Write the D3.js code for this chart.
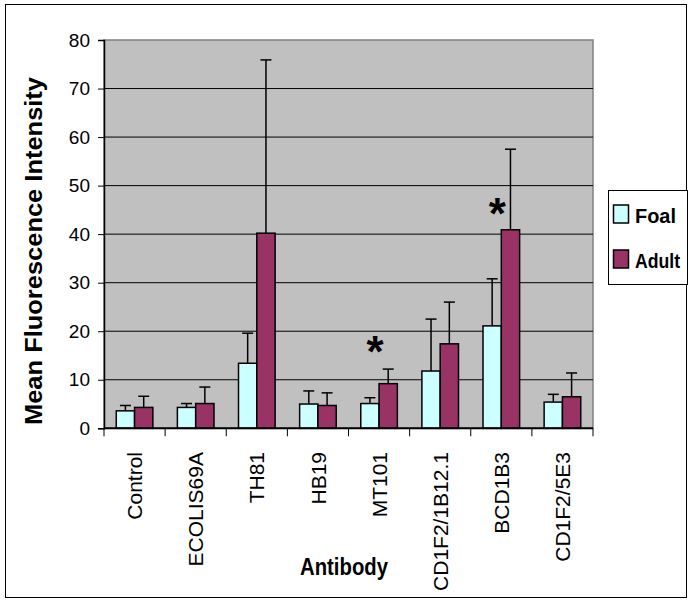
<!DOCTYPE html>
<html>
<head>
<meta charset="utf-8">
<script src="https://cdn.jsdelivr.net/npm/d3@7"></script>
<style>
  body { margin: 0; background: #fff; }
  svg { display: block; font-family: 'Liberation Sans', Arial, sans-serif; }
</style>
</head>
<body>
<svg id="chart" width="692" height="603"></svg>
<script>
const categories = ['Control', 'ECOLIS69A', 'TH81', 'HB19', 'MT101', 'CD1F2/1B12.1', 'BCD1B3', 'CD1F2/5E3']
const series = ['Foal', 'Adult']
const foal = [3.6, 4.3, 13.4, 5.0, 5.1, 11.8, 21.1, 5.4]
const foalErr = [1.1, 0.8, 6.2, 2.7, 1.2, 10.7, 9.7, 1.6]
const adult = [4.3, 5.1, 40.2, 4.7, 9.2, 17.4, 40.9, 6.5]
const adultErr = [2.3, 3.4, 35.7, 2.6, 3.0, 8.6, 16.6, 4.9]
const yTicks = [0, 10, 20, 30, 40, 50, 60, 70, 80]
// significance markers: category + height (value units)
const stars = [{ cat: 'MT101', v: 17.8 }, { cat: 'BCD1B3', v: 46.4 }]

const colors = { Foal: '#ccffff', Adult: '#993366' }

const svg = d3.select('#chart')
const plot = { left: 104, right: 593, top: 40, bottom: 428.3 }

// outer frame
svg.append('rect')
  .attr('x', 5.5).attr('y', 4.5)
  .attr('width', 681).attr('height', 593)
  .attr('fill', '#fff').attr('stroke', '#000').attr('stroke-width', 1)

const x = d3.scaleBand().domain(categories).range([plot.left, plot.right])
const xs = d3.scaleBand().domain(series).range([0, x.bandwidth()]).paddingOuter(0.67)
const y = d3.scaleLinear().domain([0, 80]).range([plot.bottom, plot.top])

// plot background
svg.append('rect')
  .attr('x', plot.left).attr('y', plot.top)
  .attr('width', plot.right - plot.left).attr('height', plot.bottom - plot.top)
  .attr('fill', '#c0c0c0').attr('stroke', '#808080').attr('stroke-width', 1.5)

// gridlines
svg.append('g').selectAll('line')
  .data(yTicks.filter(t => t > 0 && t < 80))
  .enter().append('line')
  .attr('x1', plot.left).attr('x2', plot.right)
  .attr('y1', d => y(d)).attr('y2', d => y(d))
  .attr('stroke', '#000').attr('stroke-width', 1)

const rows = categories.map((c, i) => ({
  cat: c,
  vals: [
    { s: 'Foal', v: foal[i], e: foalErr[i] },
    { s: 'Adult', v: adult[i], e: adultErr[i] }
  ]
}))

const groups = svg.append('g').selectAll('g')
  .data(rows)
  .enter().append('g')
  .attr('transform', d => `translate(${x(d.cat)},0)`)

// error bars (upper only)
groups.selectAll('g.err')
  .data(d => d.vals)
  .enter().append('g')
  .attr('class', 'err')
  .each(function (d) {
    const g = d3.select(this)
    const cx = xs(d.s) + xs.bandwidth() / 2
    g.append('line')
      .attr('x1', cx).attr('x2', cx)
      .attr('y1', y(d.v)).attr('y2', y(d.v + d.e))
      .attr('stroke', '#000').attr('stroke-width', 1.5)
    g.append('line')
      .attr('x1', cx - 5.5).attr('x2', cx + 5.5)
      .attr('y1', y(d.v + d.e)).attr('y2', y(d.v + d.e))
      .attr('stroke', '#000').attr('stroke-width', 1.5)
  })

groups.selectAll('rect')
  .data(d => d.vals)
  .enter().append('rect')
  .attr('x', d => xs(d.s))
  .attr('y', d => y(d.v))
  .attr('width', xs.bandwidth())
  .attr('height', d => y(0) - y(d.v))
  .attr('fill', d => colors[d.s])
  .attr('stroke', '#000').attr('stroke-width', 1.5)

// y axis
const yAxis = svg.append('g')
  .attr('transform', `translate(${plot.left},0)`)
  .call(d3.axisLeft(y).tickValues(yTicks).tickSize(6).tickPadding(8))
yAxis.select('.domain').attr('stroke', '#000').attr('stroke-width', 1.5)
yAxis.selectAll('text').attr('font-size', 19).attr('fill', '#000').style('font-family', "'Liberation Sans', Arial, sans-serif")

// x axis line + ticks at band boundaries
svg.append('line')
  .attr('x1', plot.left).attr('x2', plot.right)
  .attr('y1', plot.bottom).attr('y2', plot.bottom)
  .attr('stroke', '#000').attr('stroke-width', 2)
svg.append('g').selectAll('line')
  .data(categories.concat(['__end']))
  .enter().append('line')
  .attr('x1', (d, i) => plot.left + i * x.step())
  .attr('x2', (d, i) => plot.left + i * x.step())
  .attr('y1', plot.bottom).attr('y2', plot.bottom + 8)
  .attr('stroke', '#000').attr('stroke-width', 1)

// x labels (rotated)
svg.append('g').selectAll('text')
  .data(categories)
  .enter().append('text')
  .attr('transform', d => `translate(${x(d) + x.bandwidth() / 2},452) rotate(-90)`)
  .attr('dy', '0.36em')
  .attr('text-anchor', 'end')
  .attr('font-size', 21)
  .text(d => d)

// axis titles
svg.append('text')
  .attr('transform', 'translate(42,251) rotate(-90)')
  .attr('text-anchor', 'middle')
  .attr('font-size', 23).attr('font-weight', 'bold')
  .attr('textLength', 348).attr('lengthAdjust', 'spacingAndGlyphs')
  .text('Mean Fluorescence Intensity')

svg.append('text')
  .attr('x', 344).attr('y', 575)
  .attr('text-anchor', 'middle')
  .attr('font-size', 23).attr('font-weight', 'bold')
  .attr('textLength', 88).attr('lengthAdjust', 'spacingAndGlyphs')
  .text('Antibody')

// significance stars
svg.append('g').selectAll('text')
  .data(stars)
  .enter().append('text')
  .attr('x', d => x(d.cat) + x.bandwidth() / 2 - 4)
  .attr('y', d => y(d.v))
  .attr('dy', '0.58em')
  .attr('text-anchor', 'middle')
  .attr('font-size', 44).attr('font-weight', 'bold')
  .text('*')

// legend
const legend = svg.append('g')
legend.append('rect')
  .attr('x', 608.5).attr('y', 190.5).attr('width', 79).attr('height', 94)
  .attr('fill', '#fff').attr('stroke', '#000').attr('stroke-width', 1)
const li = legend.selectAll('g.item')
  .data(series)
  .enter().append('g')
  .attr('class', 'item')
  .attr('transform', (d, i) => `translate(0,${i * 45})`)
li.append('rect')
  .attr('x', 613.5).attr('y', 205).attr('width', 15).attr('height', 18)
  .attr('fill', d => colors[d]).attr('stroke', '#000').attr('stroke-width', 1.5)
li.append('text')
  .attr('x', 635).attr('y', 222.5)
  .attr('font-size', 21).attr('font-weight', 'bold')
  .attr('textLength', (d) => d === 'Foal' ? 41 : 45).attr('lengthAdjust', 'spacingAndGlyphs')
  .text(d => d)
</script>
</body>
</html>
